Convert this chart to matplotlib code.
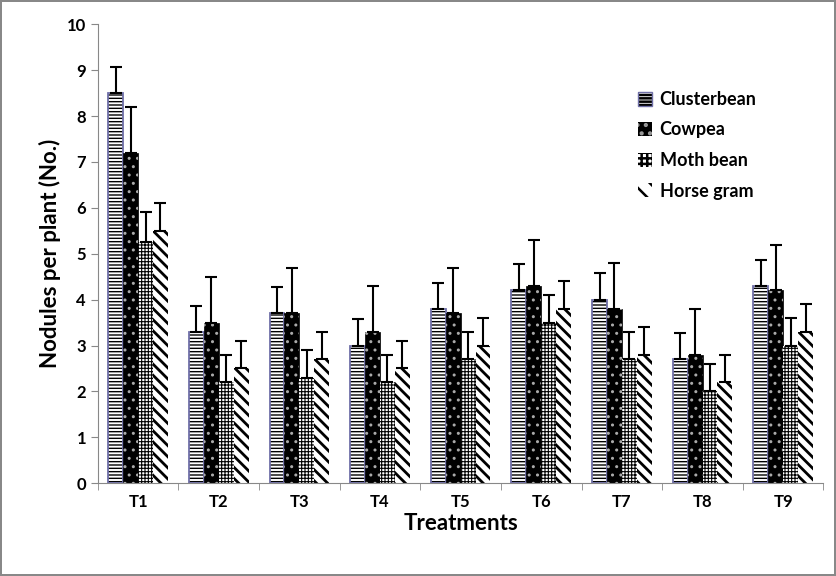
import numpy as np
import matplotlib.pyplot as plt
from matplotlib.patches import Patch

plt.rcParams['font.family'] = ['Lato', 'DejaVu Sans']
plt.rcParams['font.weight'] = 'bold'

treatments = ['T1', 'T2', 'T3', 'T4', 'T5', 'T6', 'T7', 'T8', 'T9']
clusterbean = [8.5, 3.3, 3.7, 3.0, 3.8, 4.2, 4.0, 2.7, 4.3]
cowpea = [7.2, 3.5, 3.7, 3.3, 3.7, 4.3, 3.8, 2.8, 4.2]
moth_bean = [5.25, 2.2, 2.3, 2.2, 2.7, 3.5, 2.7, 2.0, 3.0]
horse_gram = [5.5, 2.5, 2.7, 2.5, 3.0, 3.8, 2.8, 2.2, 3.3]
err_cluster = [0.57, 0.57, 0.57, 0.57, 0.57, 0.57, 0.57, 0.57, 0.57]
err_cowpea = [1.0, 1.0, 1.0, 1.0, 1.0, 1.0, 1.0, 1.0, 1.0]
err_moth = [0.65, 0.6, 0.6, 0.6, 0.6, 0.6, 0.6, 0.6, 0.6]
err_horse = [0.6, 0.6, 0.6, 0.6, 0.6, 0.6, 0.6, 0.6, 0.6]

fig = plt.figure(figsize=(8.36, 5.76), dpi=100)
fig.patch.set_edgecolor('#888888')
fig.patch.set_linewidth(1.5)
ax = fig.add_axes([0.117, 0.161, 0.868, 0.797])

x = np.arange(len(treatments))
w = 0.185
ekw = dict(ecolor='black', elinewidth=1.5, capsize=4, capthick=1.5)
up = np.zeros(len(treatments))


def set_hlw(bars, lw):
    for r in bars:
        if hasattr(r, 'set_hatch_linewidth'):
            r.set_hatch_linewidth(lw)


# Clusterbean: black horizontal lines, blue-grey outline
plt.rcParams['hatch.linewidth'] = 1.0
hb = ax.bar(x - 1.5 * w, clusterbean, w, color='white', edgecolor='black',
            hatch='-----', linewidth=0)
set_hlw(hb, 1.0)
ax.bar(x - 1.5 * w, clusterbean, w, color='none', edgecolor='#7070a8', linewidth=1.3)
ax.errorbar(x - 1.5 * w, clusterbean, yerr=[up, err_cluster], fmt='none', **ekw)

# Cowpea: black with grey dots
ax.bar(x - 0.5 * w, cowpea, w, color='black', edgecolor='black', linewidth=0.5)
ax.bar(x - 0.5 * w, cowpea, w, color='none', edgecolor='#aaaaaa', hatch='..', linewidth=0)
ax.errorbar(x - 0.5 * w, cowpea, yerr=[up, err_cowpea], fmt='none', **ekw)

# Moth bean: fine grid
plt.rcParams['hatch.linewidth'] = 0.8
b3 = ax.bar(x + 0.5 * w, moth_bean, w, color='white', edgecolor='black',
            hatch='+++++', linewidth=0)
set_hlw(b3, 0.8)
ax.errorbar(x + 0.5 * w, moth_bean, yerr=[up, err_moth], fmt='none', **ekw)

# Horse gram: thick diagonal stripes
plt.rcParams['hatch.linewidth'] = 2.0
b4 = ax.bar(x + 1.5 * w, horse_gram, w, color='white', edgecolor='black',
            hatch='\\\\\\', linewidth=0)
set_hlw(b4, 2.0)
ax.errorbar(x + 1.5 * w, horse_gram, yerr=[up, err_horse], fmt='none', **ekw)

ax.set_xlim(-0.5, len(treatments) - 0.5)
ax.set_ylim(0, 10)
ax.set_yticks(range(0, 11))
ax.set_xticks(x)
ax.set_xticklabels(treatments)
ax.set_xticks(np.arange(-0.5, len(treatments)), minor=True)
ax.tick_params(axis='x', which='major', length=0, labelsize=12, pad=8)
ax.tick_params(axis='x', which='minor', length=5, color='#888888')
ax.tick_params(axis='y', length=5, color='#888888', labelsize=12)
for s in ['top', 'right']:
    ax.spines[s].set_visible(False)
for s in ['left', 'bottom']:
    ax.spines[s].set_color('#888888')

ax.set_ylabel('Nodules per plant (No.)', fontsize=16, fontweight='bold')
ax.set_xlabel('Treatments', fontsize=16, fontweight='bold', labelpad=2)

# legend swatches (overlaid patch tuples)
plt.rcParams['hatch.linewidth'] = 0.8
h1a = Patch(facecolor='white', edgecolor='black', hatch='-----', linewidth=0)
h1b = Patch(facecolor='none', edgecolor='#7070a8', linewidth=1.0)
h2a = Patch(facecolor='black', edgecolor='black', linewidth=0)
h2b = Patch(facecolor='none', edgecolor='#999999', hatch='..', linewidth=0)
plt.rcParams['hatch.linewidth'] = 0.6
h3 = Patch(facecolor='white', edgecolor='black', hatch='+++', linewidth=0)
plt.rcParams['hatch.linewidth'] = 1.8
h4 = Patch(facecolor='white', edgecolor='black', hatch='\\\\', linewidth=0)

ax.legend(handles=[(h1a, h1b), (h2a, h2b), h3, h4],
          labels=['Clusterbean', 'Cowpea', 'Moth bean', 'Horse gram'],
          loc='upper right', bbox_to_anchor=(0.93, 0.89),
          frameon=False, fontsize=13, handlelength=0.8, handleheight=0.8,
          labelspacing=0.75, handletextpad=0.4)

fig.savefig('out.png', dpi=100, edgecolor=fig.get_edgecolor())
